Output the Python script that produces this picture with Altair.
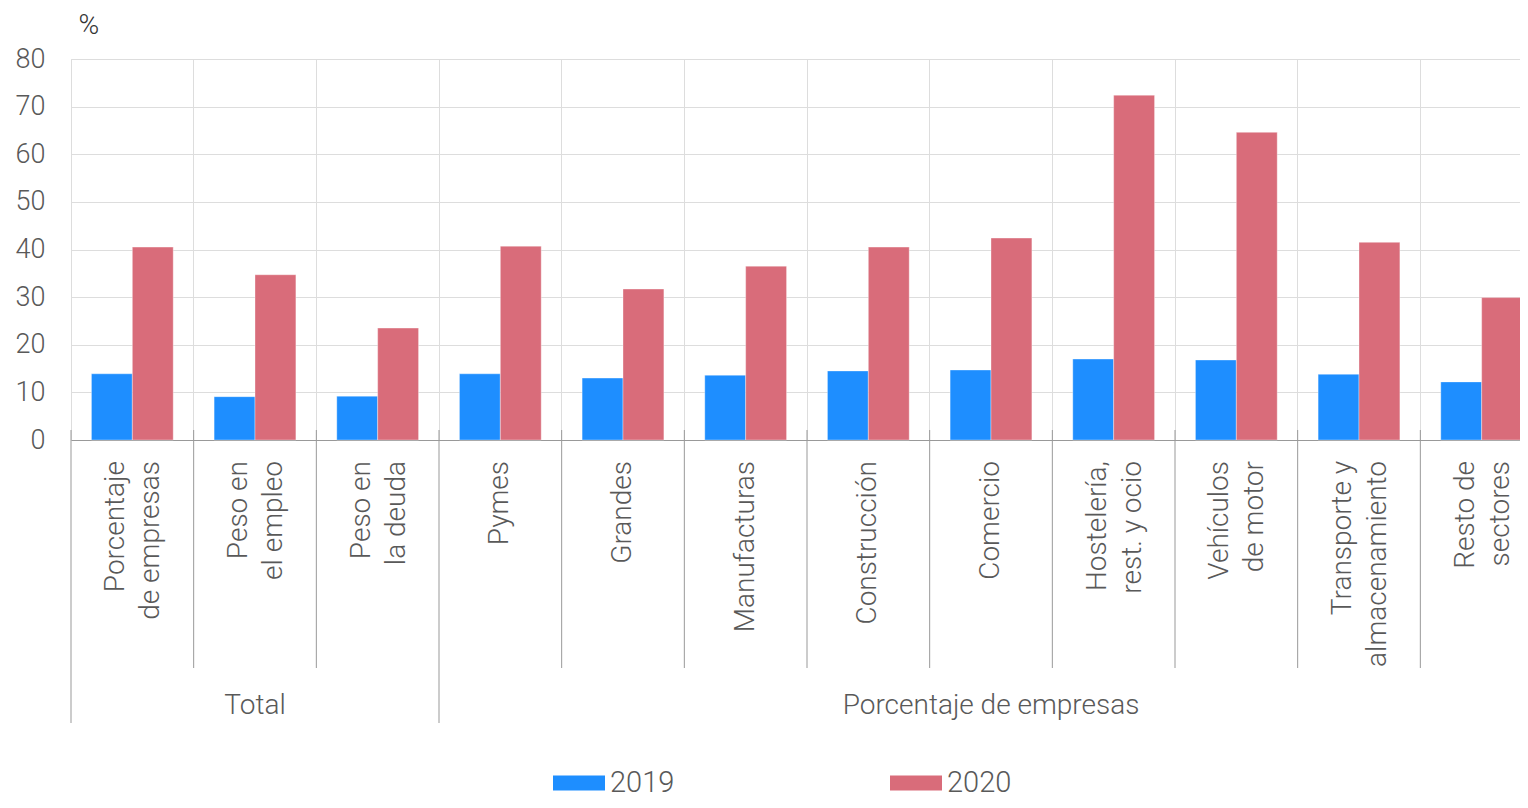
import altair as alt
import pandas as pd

# ---- data ----
categories = [
    "Porcentaje\nde empresas",
    "Peso en\nel empleo",
    "Peso en\nla deuda",
    "Pymes",
    "Grandes",
    "Manufacturas",
    "Construcción",
    "Comercio",
    "Hostelería,\nrest. y ocio",
    "Vehículos\nde motor",
    "Transporte y\nalmacenamiento",
    "Resto de\nsectores",
]
years = ["2019", "2020"]
v2019 = [13.9, 9.1, 9.2, 13.9, 13.0, 13.6, 14.5, 14.7, 17.0, 16.8, 13.8, 12.2]
v2020 = [40.5, 34.7, 23.5, 40.7, 31.7, 36.5, 40.5, 42.4, 72.4, 64.6, 41.5, 29.9]
groups = ["Total", "Porcentaje de empresas"]
y_ticks = [0, 10, 20, 30, 40, 50, 60, 70, 80]
colors = ["#1e8eff", "#d96c7a"]

FONT = "Roboto"
FW = 300
TXT = "#595959"

rows = []
for c, a, b in zip(categories, v2019, v2020):
    rows.append({"cat": c, "year": years[0], "value": a})
    rows.append({"cat": c, "year": years[1], "value": b})
df = pd.DataFrame(rows)

df_one = pd.DataFrame({"cat": [c for c in categories if "\n" not in c]})
df_two = pd.DataFrame({"cat": [c for c in categories if "\n" in c]})
long_b = [categories[0], categories[3]]
short_b = [c for i, c in enumerate(categories) if i not in (0, 3)]
df_long = pd.DataFrame({"cat": long_b})
df_short = pd.DataFrame({"cat": short_b})

xscale = alt.Scale(domain=categories, paddingInner=0, paddingOuter=0)

bars = alt.Chart(df).mark_bar(stroke="white", strokeOpacity=0.35, strokeWidth=1).encode(
    x=alt.X(
        "cat:N",
        sort=categories,
        scale=xscale,
        axis=alt.Axis(
            title=None, labels=False, ticks=False, grid=True, gridColor="#dddddd",
            gridWidth=1, bandPosition=0, domainColor="#999999", domainWidth=1,
        ),
    ),
    xOffset=alt.XOffset("year:N", scale=alt.Scale(domain=years, paddingOuter=0.5, paddingInner=0)),
    y=alt.Y(
        "value:Q",
        scale=alt.Scale(domain=[0, 80], nice=False),
        axis=alt.Axis(
            values=y_ticks, title="%", titleAngle=0, titleX=7, titleY=-34,
            titleAlign="left", titleBaseline="middle", titleFontSize=28,
            titleFontWeight=FW, titleFont=FONT, titleColor="#333333",
            labelFontSize=27, labelFont=FONT, labelFontWeight=FW, labelColor=TXT,
            labelPadding=26, ticks=False, domain=False, gridColor="#dddddd", gridWidth=1,
        ),
    ),
    color=alt.Color(
        "year:N",
        scale=alt.Scale(domain=years, range=colors),
        legend=alt.Legend(
            title=None, orient="none", legendX=482, legendY=698, direction="horizontal",
            symbolType="M-1,-0.29H1V0.29H-1Z", symbolSize=2704, symbolStrokeWidth=0,
            symbolOpacity=1, labelFontSize=29, labelFont=FONT, labelFontWeight=FW,
            labelColor=TXT, labelOffset=5, columnPadding=215,
        ),
    ),
)

rules_short = alt.Chart(df_short).mark_rule(color="#999999", strokeWidth=1).encode(
    x=alt.X("cat:N", bandPosition=0, scale=xscale),
    y=alt.value(371),
    y2=alt.value(609),
)
rules_long = alt.Chart(df_long).mark_rule(color="#999999", strokeWidth=1).encode(
    x=alt.X("cat:N", bandPosition=0, scale=xscale),
    y=alt.value(371),
    y2=alt.value(664),
)

label_style = dict(
    angle=270, align="right", baseline="middle", lineBreak="\n", lineHeight=35,
    fontSize=28, font=FONT, fontWeight=FW, color=TXT,
)
labels_one = alt.Chart(df_one).mark_text(**label_style).encode(
    x=alt.X("cat:N", scale=xscale), y=alt.value(402), text="cat:N",
)
labels_two = alt.Chart(df_two).mark_text(dy=-16, **label_style).encode(
    x=alt.X("cat:N", scale=xscale), y=alt.value(402), text="cat:N",
)

g1 = alt.Chart(pd.DataFrame({"cat": [categories[1]], "g": [groups[0]]})).mark_text(
    align="center", baseline="middle", fontSize=28, font=FONT, fontWeight=FW, color=TXT,
).encode(x=alt.X("cat:N", scale=xscale), y=alt.value(647), text="g:N")

g2 = alt.Chart(pd.DataFrame({"cat": [categories[7]], "g": [groups[1]]})).mark_text(
    align="center", baseline="middle", fontSize=28, font=FONT, fontWeight=FW, color=TXT,
).encode(x=alt.X("cat:N", scale=xscale), y=alt.value(647), text="g:N")

chart = alt.layer(bars, rules_short, rules_long, labels_one, labels_two, g1, g2).properties(
    width=1472,
    height=381,
    autosize="none",
    padding={"left": 63, "top": 51, "right": -23, "bottom": 358},
).configure_view(stroke=None).configure(font=FONT)

chart.save("out.html", embed_options={"renderer": "svg", "actions": False})
